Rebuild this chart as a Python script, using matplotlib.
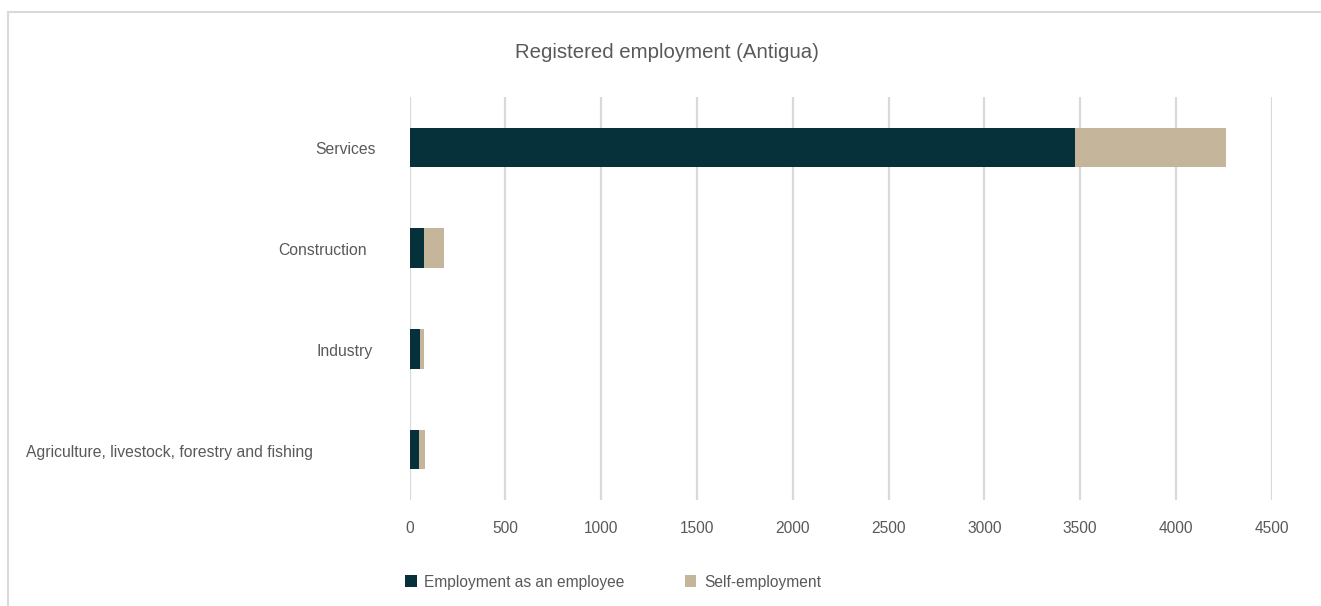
import matplotlib.pyplot as plt
from matplotlib.patches import Rectangle
from matplotlib.transforms import ScaledTranslation, blended_transform_factory

plt.rcParams['font.family'] = ['Liberation Sans', 'DejaVu Sans']

sectors = ["Agriculture, livestock, forestry and fishing", "Industry",
           "Construction", "Services"]
employee = [50, 55, 75, 3475]
self_employed = [28, 22, 105, 785]
xticks = [0, 500, 1000, 1500, 2000, 2500, 3000, 3500, 4000, 4500]

dark = "#06303a"
tan = "#c4b59b"
grey = "#595959"

fig = plt.figure(figsize=(13.21, 6.06), dpi=100)
ax = fig.add_axes([409.7/1321, 106/606, 862/1321, 403/606])

ypos = list(range(len(sectors)))
ax.barh(ypos, employee, height=0.39, color=dark, zorder=3,
        label="Employment as an employee")
ax.barh(ypos, self_employed, left=employee, height=0.39, color=tan, zorder=3,
        label="Self-employment")

ax.set_xlim(0, 4500)
ax.set_ylim(-0.5, 3.5)
ax.set_xticks(xticks)
ax.set_xticklabels([str(t) for t in xticks])
ax.set_yticks(ypos)
ax.set_yticklabels([])
ax.grid(axis="x", color="#d9d9d9", linewidth=1.6, zorder=0)
for s in ax.spines.values():
    s.set_visible(False)
ax.tick_params(length=0, labelsize=11.2, labelcolor=grey)
ax.tick_params(axis="x", pad=15)

# category names, each at its own distance from the axis
gaps = [97, 37, 43, 34]
trans = blended_transform_factory(ax.transAxes, ax.transData)
for y, name, g in zip(ypos, sectors, gaps):
    ax.text(0, y, name, ha="right", va="center", fontsize=11.3, color=grey,
            transform=trans + ScaledTranslation(-g/100, -0.025, fig.dpi_scale_trans))

fig.text(667/1321, 1 - 53/606, "Registered employment (Antigua)",
         ha="center", va="center", fontsize=14.7, color=grey)

fig.legend(loc="center", bbox_to_anchor=(613/1321, 1 - 582/606), ncol=2,
           frameon=False, fontsize=11.2, labelcolor=grey, handlelength=0.75,
           handleheight=0.75, handletextpad=0.5, columnspacing=3.85)

fig.patches.append(Rectangle((8/1321, -0.1), 1.2, 1 - 12/606 + 0.1,
                             transform=fig.transFigure, fill=False,
                             edgecolor="#d9d9d9", linewidth=1.5))

fig.savefig("out.png", dpi=100, facecolor="white")
